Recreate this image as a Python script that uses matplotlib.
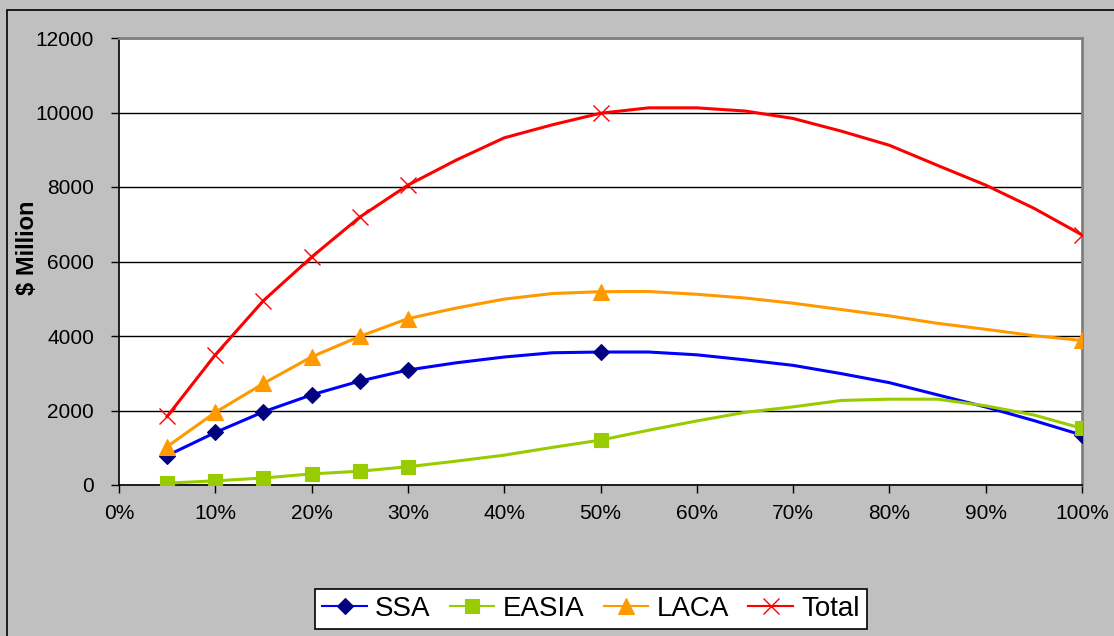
import matplotlib
matplotlib.use("Agg")
import matplotlib.pyplot as plt
from matplotlib.patches import Rectangle

plt.rcParams['font.family'] = ['Liberation Sans', 'DejaVu Sans']

# share of the curve (x axis, in %)
share = [5, 10, 15, 20, 25, 30, 35, 40, 45, 50, 55, 60, 65, 70, 75, 80, 85, 90, 95, 100]

# $ Million by region
ssa = [790, 1410, 1965, 2420, 2790, 3087, 3280, 3436, 3550, 3570,
       3570, 3495, 3360, 3212, 2990, 2747, 2420, 2094, 1730, 1340]
easia = [50, 112, 188, 298, 370, 490, 640, 801, 1010, 1205,
         1470, 1720, 1950, 2098, 2270, 2304, 2304, 2125, 1880, 1520]
laca = [1030, 1950, 2725, 3440, 3990, 4465, 4750, 4990, 5140, 5190,
        5195, 5120, 5020, 4880, 4710, 4540, 4340, 4180, 4010, 3880]
total = [1840, 3495, 4950, 6120, 7190, 8050, 8720, 9320, 9670, 9980,
         10125, 10125, 10040, 9840, 9500, 9120, 8580, 8050, 7430, 6715]

# points that carry a marker
marked = [5, 10, 15, 20, 25, 30, 50, 100]
mark_idx = [share.index(m) for m in marked]

xticks = list(range(0, 101, 10))
yticks = list(range(0, 12001, 2000))

W, H = 1114, 636
fig = plt.figure(figsize=(W / 100, H / 100), dpi=100, facecolor='#C0C0C0')

# chart border
fig.patches.append(Rectangle((7 / W, -0.1), 1.2, 1 - 10 / H + 0.1, transform=fig.transFigure,
                             fill=False, edgecolor='black', linewidth=1.2))

ax = fig.add_axes([119 / W, 1 - 485 / H, (1082 - 119) / W, (485 - 38) / H])
ax.set_facecolor('white')

series = [
    ('SSA', ssa, '#0000FF', 'D', '#000080', 8.5),
    ('EASIA', easia, '#99CC00', 's', '#99CC00', 10),
    ('LACA', laca, '#FF9900', '^', '#FF9900', 11),
    ('Total', total, '#FF0000', 'x', '#FF0000', 11),
]
for name, vals, lc, mk, mc, ms in series:
    ax.plot(share, vals, color=lc, linewidth=2.2, marker=mk, markevery=mark_idx,
            markersize=ms, markerfacecolor=mc, markeredgecolor=mc,
            markeredgewidth=1.0 if mk == 'x' else 0.8, label=name, zorder=3,
            solid_joinstyle='round')

ax.set_xlim(0, 100)
ax.set_ylim(0, 12000)
ax.set_xticks(xticks)
ax.set_xticklabels([f'{t}%' for t in xticks])
ax.set_yticks(yticks)
ax.set_yticklabels([str(t) for t in yticks])
ax.tick_params(axis='both', direction='out', length=6, width=1, colors='black',
               labelsize=15)
ax.tick_params(axis='x', pad=8)
ax.tick_params(axis='y', pad=12)

ax.yaxis.grid(True, color='black', linewidth=1)
ax.set_axisbelow(True)
for side in ['left', 'bottom']:
    ax.spines[side].set_color('black')
    ax.spines[side].set_linewidth(1.2)
for side in ['top', 'right']:
    ax.spines[side].set_color('#808080')
    ax.spines[side].set_linewidth(2)

fig.text(28 / W, 1 - 248 / H, '$ Million', rotation=90, ha='center', va='center',
         fontsize=17, fontweight='bold')

leg = fig.legend(loc='center', bbox_to_anchor=(591 / W, 1 - 609 / H), ncol=4,
                 fontsize=20, frameon=True, fancybox=False, edgecolor='black',
                 framealpha=1, handlelength=1.6, handletextpad=0.3,
                 columnspacing=0.7, borderpad=0.25, borderaxespad=0)
leg.get_frame().set_linewidth(1.2)
for h in leg.legend_handles:
    h.set_linewidth(1.5)

fig.savefig('out.png', dpi=100, facecolor=fig.get_facecolor())
